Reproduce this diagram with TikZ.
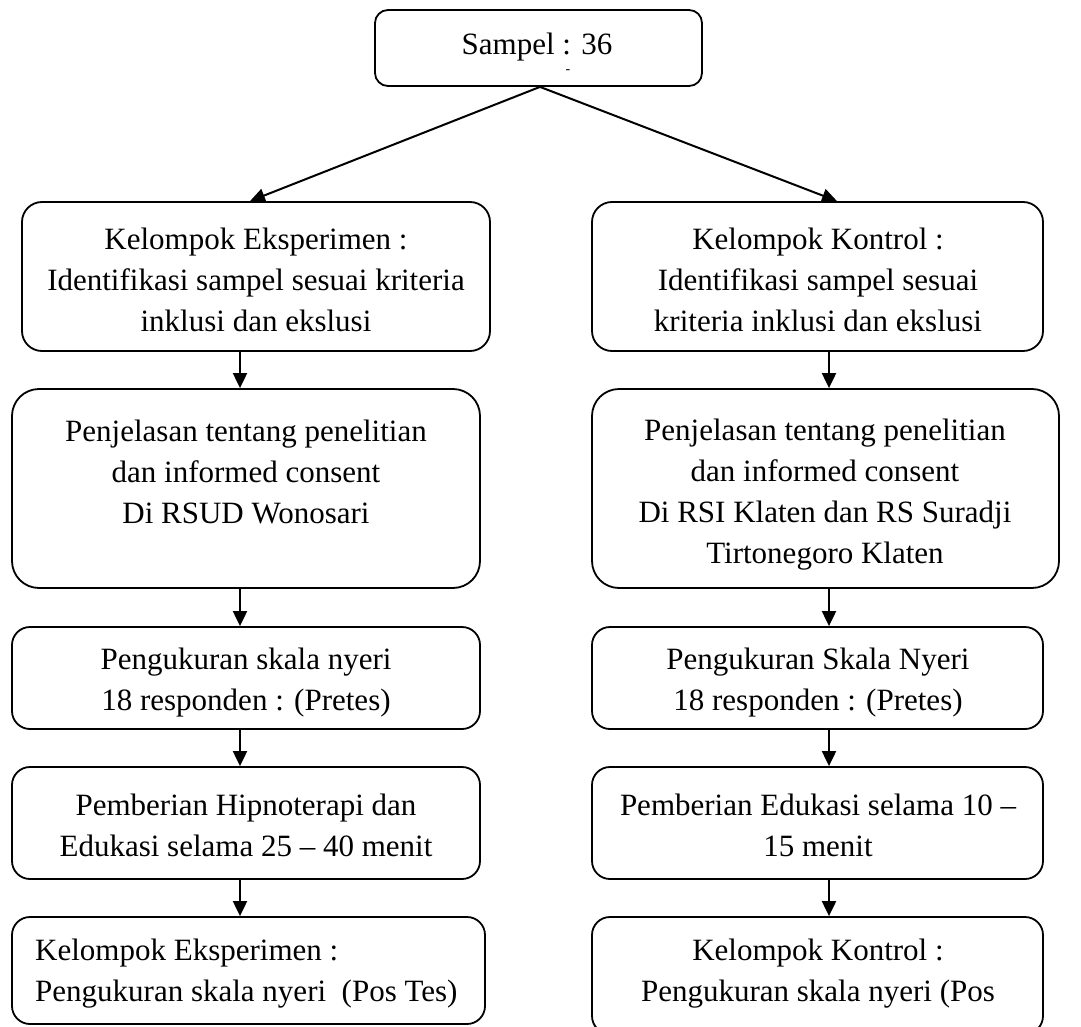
\documentclass[tikz,border=0pt]{standalone}
\usepackage{fontspec}
\setmainfont{Liberation Serif}
\usetikzlibrary{arrows.meta,fit}
\begin{document}
\begin{tikzpicture}[x=1pt,y=-1pt,
  box/.style={draw, line width=1.8pt, inner sep=0pt, rounded corners=#1},
  box/.default=20pt,
  txt/.style={align=center, inner sep=0pt, font=\fontsize{31}{41}\selectfont},
  arr/.style={line width=2pt, -{Triangle[length=15pt,width=14pt]}}]
\useasboundingbox (0,0) rectangle (1081,1027);
% boxes
\node[box=13pt, fit={(375,10) (702,86)}] (top) {};
\node[box, fit={(22,202) (490,351)}] (L1) {};
\node[box, fit={(592,202) (1043,351)}] (R1) {};
\node[box=27pt, fit={(12,389) (480,588)}] (L2) {};
\node[box=27pt, fit={(592,389) (1059,588)}] (R2) {};
\node[box=18pt, fit={(12,627) (480,729)}] (L3) {};
\node[box=18pt, fit={(592,627) (1043,729)}] (R3) {};
\node[box=18pt, fit={(12,767) (480,879)}] (L4) {};
\node[box=18pt, fit={(592,767) (1043,879)}] (R4) {};
\node[box=18pt, fit={(12,917) (485,1024)}] (L5) {};
\node[box=18pt, fit={(592,917) (1043,1034)}] (R5) {};
% texts
\node[txt] (topt) at (537,47) {Sampel : 36};
\node[inner sep=0pt, font=\fontsize{14}{14}\selectfont] (mark) at (568,72) {-};
\node[txt] (L1t) at (256,280) {Kelompok Eksperimen :\\Identifikasi sampel sesuai kriteria\\inklusi dan ekslusi};
\node[txt] (R1t) at (818,280) {Kelompok Kontrol :\\Identifikasi sampel sesuai\\kriteria inklusi dan ekslusi};
\node[txt] (L2t) at (246,472) {Penjelasan tentang penelitian\\dan informed consent\\Di RSUD Wonosari};
\node[txt] (R2t) at (825,495) {Penjelasan tentang penelitian\\dan informed consent\\Di RSI Klaten dan RS Suradji\\Tirtonegoro Klaten};
\node[txt] (L3t) at (246,683) {Pengukuran skala nyeri\\18 responden : (Pretes)};
\node[txt] (R3t) at (818,683) {Pengukuran Skala Nyeri\\18 responden : (Pretes)};
\node[txt] (L4t) at (246,825) {Pemberian Hipnoterapi dan\\Edukasi selama 25 -- 40 menit};
\node[txt] (R4t) at (818,825) {Pemberian Edukasi selama 10 --\\15 menit};
\node[txt, align=left, anchor=west] (L5t) at (35,974) {Kelompok Eksperimen :\\Pengukuran skala nyeri\ \ (Pos Tes)};
\node[txt] (R5t) at (818,974) {Kelompok Kontrol :\\Pengukuran skala nyeri (Pos};
% connectors
\coordinate (la) at (240,0);
\coordinate (ra) at (829,0);
\coordinate (ltip) at (250,0);
\coordinate (rtip) at (837,0);
\coordinate (src) at (540,0);
\draw[arr] (top.south -| src) -- (L1.north -| ltip);
\draw[arr] (top.south -| src) -- (R1.north -| rtip);
\draw[arr] (L1.south -| la) -- (L2.north -| la);
\draw[arr] (L2.south -| la) -- (L3.north -| la);
\draw[arr] (L3.south -| la) -- (L4.north -| la);
\draw[arr] (L4.south -| la) -- (L5.north -| la);
\draw[arr] (R1.south -| ra) -- (R2.north -| ra);
\draw[arr] (R2.south -| ra) -- (R3.north -| ra);
\draw[arr] (R3.south -| ra) -- (R4.north -| ra);
\draw[arr] (R4.south -| ra) -- (R5.north -| ra);
\end{tikzpicture}
\end{document}
